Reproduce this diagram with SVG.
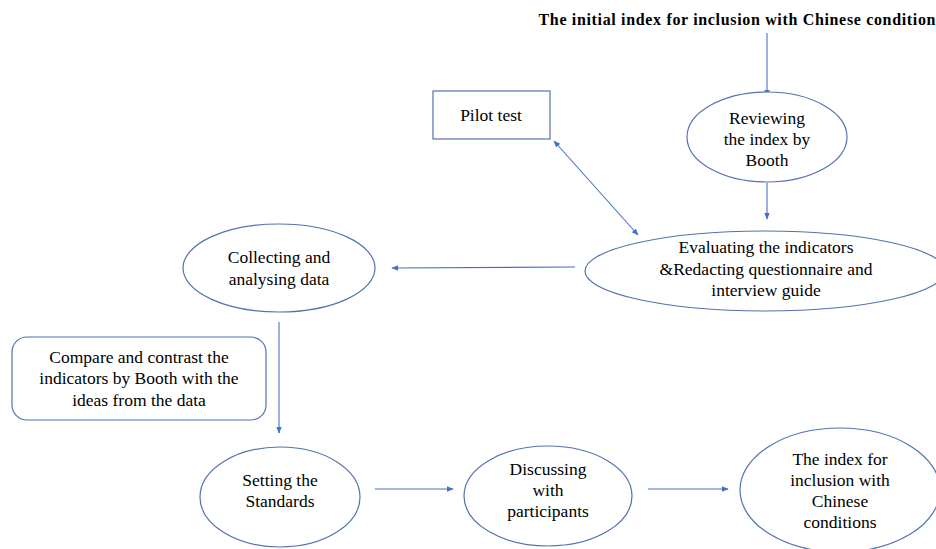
<svg xmlns="http://www.w3.org/2000/svg" width="936" height="549" viewBox="0 0 936 549">
<style>
.s{fill:#fff;stroke:#5273b0;stroke-width:1.2}
.t{font-family:"Liberation Serif","Times New Roman",serif;font-size:17.5px;fill:#000;text-anchor:middle}
.c{stroke:#4472c4;stroke-width:1.1;fill:none;marker-end:url(#ah)}
</style>
<defs>
<marker id="ah" viewBox="0 0 10 10" refX="9" refY="5" markerWidth="7" markerHeight="7" orient="auto-start-reverse" markerUnits="userSpaceOnUse">
<path d="M0,1 L10,5 L0,9 z" fill="#4472c4"/>
</marker>
</defs>
<rect width="936" height="549" fill="#fff"/>
<g id="connectors">
<line class="c" x1="767" y1="33" x2="767" y2="96"/>
<line class="c" x1="767" y1="183" x2="767" y2="219"/>
<line class="c" x1="554" y1="141" x2="638" y2="235" style="marker-start:url(#ah)"/>
<line class="c" x1="575" y1="267" x2="392" y2="268"/>
<line class="c" x1="279" y1="322" x2="279" y2="433"/>
<line class="c" x1="375" y1="489" x2="453" y2="489"/>
<line class="c" x1="648" y1="489" x2="728" y2="489"/>
</g>
<g id="title">
<text x="737" y="25" class="t" style="font-weight:bold;font-size:16px" textLength="397" lengthAdjust="spacing">The initial index for inclusion with Chinese condition</text>
</g>
<g id="pilot">
<rect class="s" x="433" y="91" width="117" height="48"/>
<text class="t" x="491" y="121">Pilot test</text>
</g>
<g id="reviewing">
<ellipse class="s" cx="767" cy="137" rx="80" ry="45"/>
<text class="t" x="767" y="124">Reviewing</text>
<text class="t" x="767" y="145">the index by</text>
<text class="t" x="767" y="166">Booth</text>
</g>
<g id="evaluating">
<ellipse class="s" cx="765" cy="271" rx="180" ry="40"/>
<text class="t" x="766" y="253">Evaluating the indicators</text>
<text class="t" x="766" y="275">&amp;Redacting questionnaire and</text>
<text class="t" x="766" y="296">interview guide</text>
</g>
<g id="collecting">
<ellipse class="s" cx="279" cy="268" rx="96" ry="44"/>
<text class="t" x="279" y="263">Collecting and</text>
<text class="t" x="279" y="285">analysing data</text>
</g>
<g id="compare">
<rect class="s" x="12" y="337" width="254" height="83" rx="15"/>
<text class="t" x="139" y="363">Compare and contrast the</text>
<text class="t" x="139" y="384">indicators by Booth with the</text>
<text class="t" x="139" y="406">ideas from the data</text>
</g>
<g id="setting">
<ellipse class="s" cx="280" cy="497" rx="80" ry="50"/>
<text class="t" x="280" y="486">Setting the</text>
<text class="t" x="280" y="507">Standards</text>
</g>
<g id="discussing">
<ellipse class="s" cx="548" cy="496" rx="84" ry="50"/>
<text class="t" x="548" y="475">Discussing</text>
<text class="t" x="548" y="496">with</text>
<text class="t" x="548" y="517">participants</text>
</g>
<g id="final">
<ellipse class="s" cx="840" cy="490" rx="100" ry="62"/>
<text class="t" x="840" y="465">The index for</text>
<text class="t" x="840" y="486">inclusion with</text>
<text class="t" x="840" y="507">Chinese</text>
<text class="t" x="840" y="528">conditions</text>
</g>
</svg>
